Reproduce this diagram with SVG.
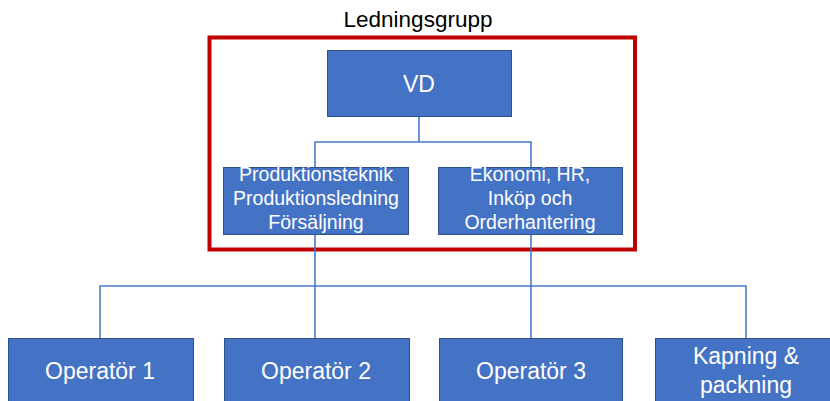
<svg xmlns="http://www.w3.org/2000/svg" width="830" height="401" viewBox="0 0 830 401">
<style>
.box{fill:#4472C4;stroke:#2F528F;stroke-width:1}
.t{font-family:"Liberation Sans",Arial,sans-serif;fill:#FFFFFF;text-anchor:middle}
.big{font-size:23px}
.small{font-size:19.5px}
.conn{fill:none;stroke:#4A7BCB;stroke-width:1.6}
</style>
<rect width="830" height="401" fill="#FFFFFF"/>
<text x="418" y="27" font-family="Liberation Sans, Arial, sans-serif" font-size="22.5" text-anchor="middle" fill="#000000">Ledningsgrupp</text>
<rect id="ledningsgrupp-frame" x="209.5" y="37.5" width="425.5" height="212" fill="none" stroke="#C00000" stroke-width="4"/>
<g id="connectors">
<path class="conn" d="M419 116V142M315 167V142H531V167"/>
<path class="conn" d="M315 234V338M531 234V338"/>
<path class="conn" d="M100 338V286H746V338"/>
</g>
<g id="vd"><rect class="box" x="327.5" y="50.5" width="184" height="66"/><text class="t big" x="419" y="92">VD</text></g>
<g id="produktion"><rect class="box" x="223.5" y="167.5" width="185" height="67"/><text class="t small" x="316" y="181">Produktionsteknik</text><text class="t small" x="316" y="205">Produktionsledning</text><text class="t small" x="316" y="229">Försäljning</text></g>
<g id="ekonomi"><rect class="box" x="438.5" y="167.5" width="184" height="67"/><text class="t small" x="530" y="181">Ekonomi, HR,</text><text class="t small" x="530" y="205">Inköp och</text><text class="t small" x="530" y="229">Orderhantering</text></g>
<g id="operator1"><rect class="box" x="8.5" y="338.5" width="185" height="70"/><text class="t big" x="100" y="379">Operatör 1</text></g>
<g id="operator2"><rect class="box" x="224.5" y="338.5" width="185" height="70"/><text class="t big" x="316" y="379">Operatör 2</text></g>
<g id="operator3"><rect class="box" x="439.5" y="338.5" width="183" height="70"/><text class="t big" x="531" y="379">Operatör 3</text></g>
<g id="kapning"><rect class="box" x="655.5" y="338.5" width="185" height="70"/><text class="t big" x="746" y="364">Kapning &amp;</text><text class="t big" x="746" y="393">packning</text></g>
</svg>
